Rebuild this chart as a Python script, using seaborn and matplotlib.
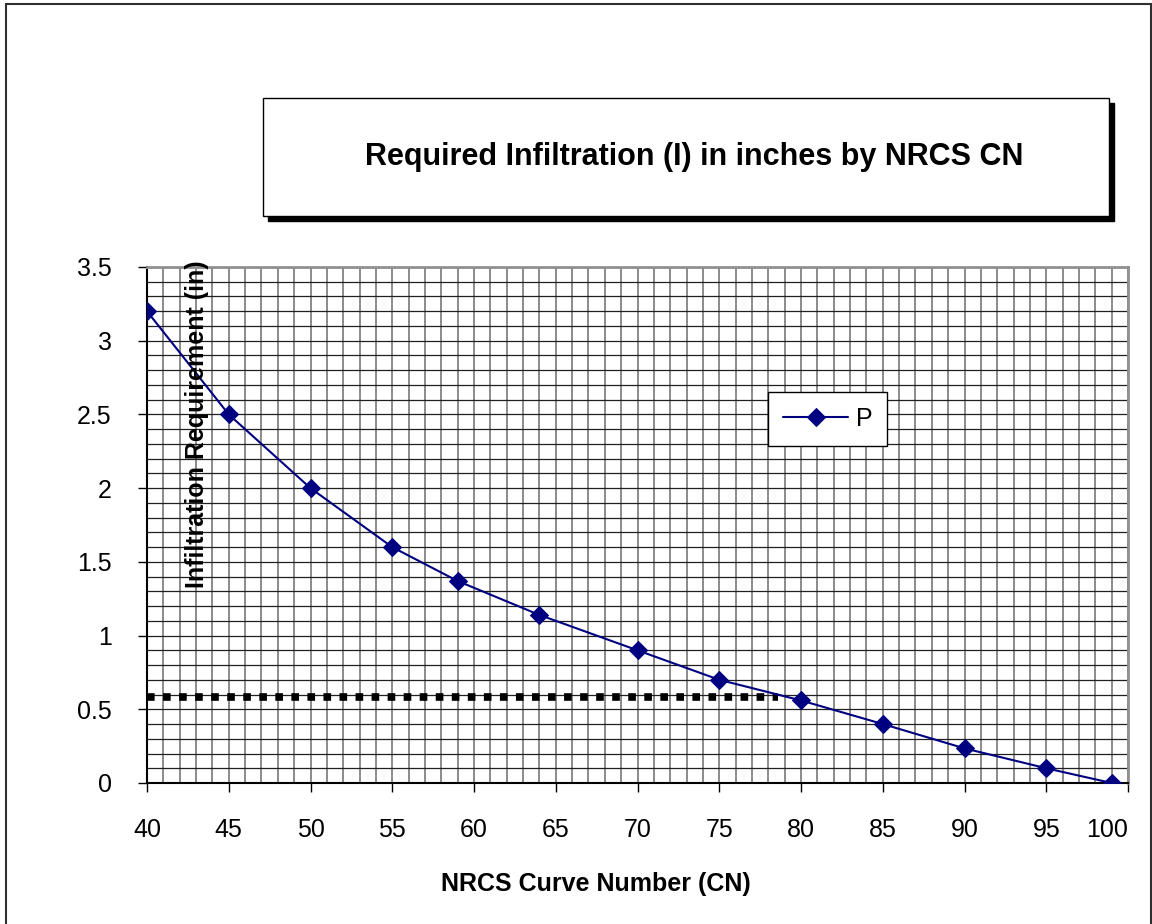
import numpy as np
import pandas as pd
import matplotlib.pyplot as plt
import seaborn as sns
from matplotlib.patches import Rectangle

# curve numbers and required infiltration
cn = [40, 45, 50, 55, 59, 64, 70, 75, 80, 85, 90, 95, 99]
infil = [3.2, 2.5, 2.0, 1.6, 1.37, 1.14, 0.9, 0.7, 0.56, 0.4, 0.235, 0.1, 0.0]

# dotted reference line
ref_cn = [40, 78.6]
ref_in = [0.58, 0.58]

x_ticks = list(range(40, 101, 5))
y_ticks = [0, 0.5, 1, 1.5, 2, 2.5, 3, 3.5]
y_labels = ['0', '0.5', '1', '1.5', '2', '2.5', '3', '3.5']

sns.set_style('white')
plt.rcParams['font.family'] = ['Liberation Sans', 'DejaVu Sans']
plt.rcParams['text.color'] = 'black'
plt.rcParams['xtick.color'] = 'black'
plt.rcParams['ytick.color'] = 'black'

fig = plt.figure(figsize=(11.52, 9.24), dpi=100)
ax = fig.add_axes([147 / 1152, 1 - 783 / 924, 981 / 1152, 516 / 924])

df = pd.DataFrame({'CN': cn, 'I': infil})
sns.lineplot(data=df, x='CN', y='I', marker='D', color='#000080', markersize=9,
             markeredgecolor='#000080', linewidth=1.5, label='P', ax=ax, zorder=5)
ax.plot(ref_cn, ref_in, color='black', lw=5.5, linestyle=(0, (1, 1.1)), zorder=4)

ax.set_xlim(40, 100)
ax.set_ylim(0, 3.5)
ax.set_xticks(x_ticks)
ax.set_xticklabels([str(t) for t in x_ticks])
ax.get_xticklabels()[-1].set_horizontalalignment('right')
ax.set_yticks(y_ticks)
ax.set_yticklabels(y_labels)
ax.set_xticks(np.arange(40, 101, 1), minor=True)
ax.set_yticks(np.arange(0, 3.51, 0.1), minor=True)
ax.grid(which='both', axis='x', color='#787878', lw=1.2)
ax.grid(which='both', axis='y', color='#202020', lw=0.9)
ax.set_axisbelow(True)

ax.tick_params(which='major', bottom=True, left=True, direction='out', length=6.5,
               width=1, pad=19, labelsize=18)
ax.tick_params(which='minor', length=0)
ax.set_xlabel('')
ax.set_ylabel('')

for s in ['left', 'bottom']:
    ax.spines[s].set_color('black')
    ax.spines[s].set_linewidth(1.5)
for s in ['top', 'right']:
    ax.spines[s].set_color('#909090')
    ax.spines[s].set_linewidth(2)

leg = ax.legend(loc='upper left', bbox_to_anchor=((768 - 147) / 981, (783 - 392) / 516),
                borderaxespad=0, fontsize=18, fancybox=False, framealpha=1,
                edgecolor='black', handlelength=2.6, handletextpad=0.3,
                borderpad=0.6)
leg.get_frame().set_linewidth(1)

fig.text(197 / 1152, 1 - 424 / 924, 'Infiltration Requirement (in)', rotation=90,
         ha='center', va='center', fontsize=18, fontweight='bold')
fig.text(596 / 1152, 1 - 884 / 924, 'NRCS Curve Number (CN)', ha='center', va='center',
         fontsize=18, fontweight='bold')

# title box with shadow
bx, by, bw, bh = 263 / 1152, 1 - 216 / 924, 846 / 1152, 118 / 924
fig.add_artist(Rectangle((bx + 5 / 1152, by - 5 / 924), bw, bh, transform=fig.transFigure,
                         facecolor='black', edgecolor='black'))
fig.add_artist(Rectangle((bx, by), bw, bh, transform=fig.transFigure,
                         facecolor='white', edgecolor='black', lw=1))
fig.text(694 / 1152, 1 - 157 / 924, 'Required Infiltration (I) in inches by NRCS CN',
         ha='center', va='center', fontsize=22, fontweight='bold')

# outer border
fig.add_artist(Rectangle((6 / 1152, -0.01), 1 - 7 / 1152, 1.01 - 4 / 924,
                         transform=fig.transFigure, fill=False, edgecolor='#303030', lw=1.5))

fig.savefig('out.png', dpi=100)
